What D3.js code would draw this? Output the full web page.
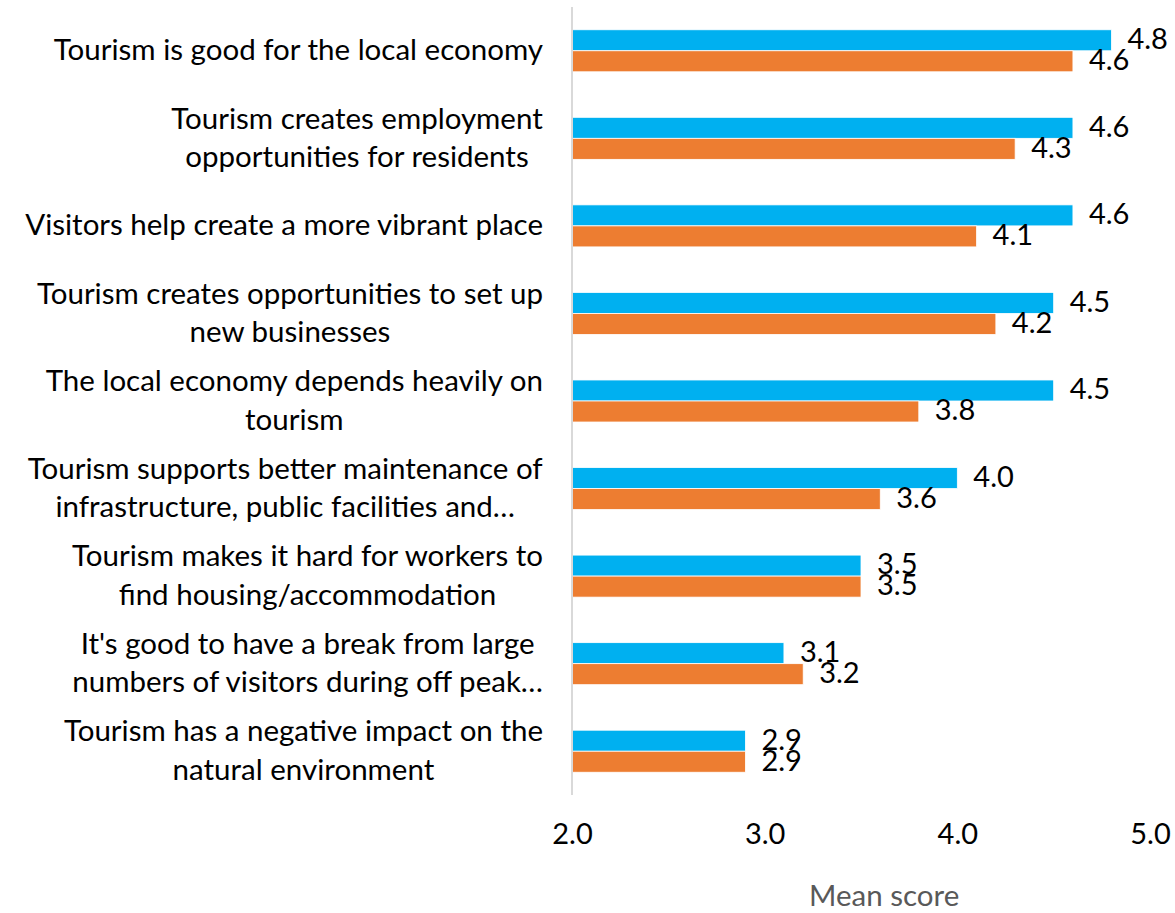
<!DOCTYPE html>
<html>
<head>
<meta charset="utf-8">
<script src="https://cdn.jsdelivr.net/npm/d3@7"></script>
<style>
  html, body { margin: 0; padding: 0; background: #ffffff; }
  svg { display: block; font-family: Lato, "Open Sans", sans-serif; }
</style>
</head>
<body>
<svg id="chart" width="1175" height="913"></svg>
<script>
// Statement labels, one entry per wrapped line
const statements = [
  ["Tourism is good for the local economy"],
  ["Tourism creates employment", "opportunities for residents"],
  ["Visitors help create a more vibrant place"],
  ["Tourism creates opportunities to set up", "new businesses"],
  ["The local economy depends heavily on", "tourism"],
  ["Tourism supports better maintenance of", "infrastructure, public facilities and\u2026"],
  ["Tourism makes it hard for workers to", "find housing/accommodation"],
  ["It's good to have a break from large", "numbers of visitors during off peak\u2026"],
  ["Tourism has a negative impact on the", "natural environment"]
];
const seriesA = [4.8, 4.6, 4.6, 4.5, 4.5, 4.0, 3.5, 3.1, 2.9];
const seriesB = [4.6, 4.3, 4.1, 4.2, 3.8, 3.6, 3.5, 3.2, 2.9];
const xTicks = [2.0, 3.0, 4.0, 5.0];
const xTitle = "Mean score";

const colors = ["#00B0F0", "#ED7D31"];
const svg = d3.select("#chart");

const plotLeft = 572, plotRight = 1150, plotTop = 7, plotBottom = 795;
const labelRight = 543;

const x = d3.scaleLinear().domain([2, 5]).range([plotLeft, plotRight]);
const y = d3.scaleBand().domain(d3.range(statements.length)).range([plotTop, plotBottom]).paddingInner(0.52).paddingOuter(0.26);
const sub = d3.scaleBand().domain([0, 1]).range([0, y.bandwidth()]);

const rows = statements.map((s, i) => ({ i, lines: s, values: [seriesA[i], seriesB[i]] }));

// bars with value labels
const g = svg.append("g");
rows.forEach(r => {
  r.values.forEach((v, k) => {
    g.append("rect")
      .attr("x", x(2))
      .attr("y", y(r.i) + sub(k))
      .attr("width", x(v) - x(2))
      .attr("height", sub.bandwidth())
      .attr("fill", colors[k])
      .attr("stroke", "#ffffff")
      .attr("stroke-width", 0.8);
    g.append("text")
      .attr("x", x(v) + 16)
      .attr("y", y(r.i) + sub(k) + sub.bandwidth() / 2 + 1.5)
      .attr("dominant-baseline", "middle")
      .attr("font-size", 29)
      .attr("fill", "#000")
      .text(d3.format(".1f")(v));
  });
});

// vertical axis line
svg.append("line")
  .attr("x1", plotLeft).attr("x2", plotLeft)
  .attr("y1", plotTop).attr("y2", plotBottom)
  .attr("stroke", "#d9d9d9").attr("stroke-width", 2);

// category labels, lines centered within a right-aligned block
const labelG = svg.append("g");
rows.forEach(r => {
  const cy = y(r.i) + y.bandwidth() / 2 + 2;
  const lh = 38.5;
  const t = labelG.append("text")
    .attr("font-size", 29.5)
    .attr("fill", "#000")
    .attr("text-anchor", "middle");
  r.lines.forEach((ln, j) => {
    t.append("tspan")
      .attr("x", 0)
      .attr("y", cy + (j - (r.lines.length - 1) / 2) * lh)
      .attr("dominant-baseline", "middle")
      .text(ln);
  });
  const w = t.node().getBBox().width;
  t.selectAll("tspan").attr("x", labelRight - w / 2);
});

// x-axis tick labels
const xAxis = d3.axisBottom(x).tickValues(xTicks).tickFormat(d3.format(".1f")).tickSize(0).tickPadding(0);
const ax = svg.append("g").attr("transform", `translate(0, 837)`).call(xAxis);
ax.select(".domain").remove();
ax.selectAll("text")
  .attr("font-size", 29)
  .attr("font-family", "Lato, sans-serif")
  .attr("fill", "#000")
  .attr("dy", null)
  .attr("dominant-baseline", "middle");

svg.append("text")
  .attr("x", x(3.62))
  .attr("y", 899)
  .attr("text-anchor", "middle")
  .attr("dominant-baseline", "middle")
  .attr("font-size", 29.5)
  .attr("fill", "#595959")
  .text(xTitle);
</script>
</body>
</html>
